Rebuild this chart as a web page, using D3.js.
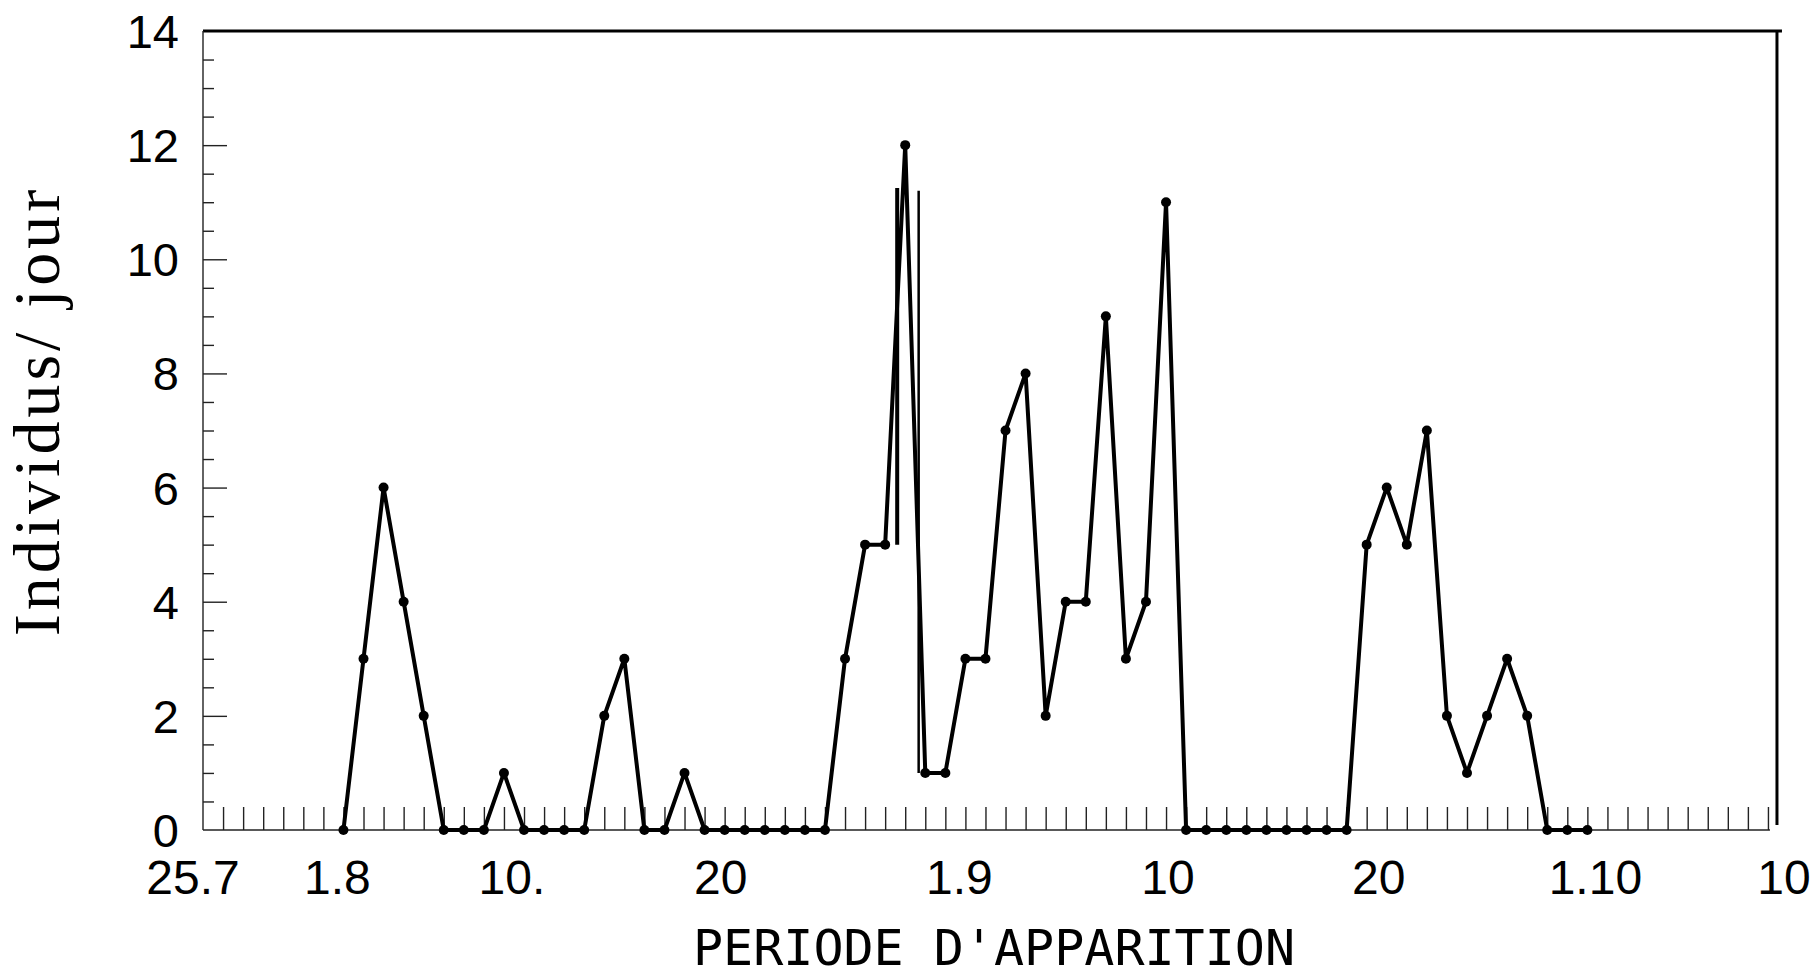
<!DOCTYPE html>
<html><head><meta charset="utf-8">
<script src="https://cdn.jsdelivr.net/npm/d3@7"></script>
<style>html,body{margin:0;padding:0;background:#fff;}</style>
</head><body>
<svg id="chart" width="1820" height="975"></svg>
<script>
// Day index counted from 25.7 (day 0); first observation on 1.8 (day 7)
const firstDay = 7;
const values = [0,3,6,4,2, 0,0,0,1,0, 0,0,0,2,3, 0,0,1,0,0, 0,0,0,0,0,
                3,5,5,12,1, 1,3,3,7,8, 2,4,4,9,3, 4,11,0,0,0, 0,0,0,0,0,
                0,5,6,5,7, 2,1,2,3,2, 0,0,0];
const xTickLabels = ["25.7","1.8","10.","20","1.9","10","20","1.10","10"];
const xTickDays   = [-0.5, 6.7, 15.4, 25.8, 37.7, 48.1, 58.6, 69.4, 78.8];
const yTickValues = [0,2,4,6,8,10,12,14];
const spikeDays = [34.6, 35.67];
const spikeFrom = [5, 1];
const spikeTo   = [11.25, 11.2];
const yTitle = "Individus/ jour";
const xTitle = "PERIODE D'APPARITION";

const svg = d3.select("#chart");
const x = d3.scaleLinear().domain([0, 78.9]).range([203, 1786]);
const y = d3.scaleLinear().domain([0, 14]).range([830, 31]);
const xEnd = 78.45;   // right frame position (days)

const data = values.map((v, i) => ({day: firstDay + i, v}));

// Frame
const g = svg.append("g");
g.append("line").attr("x1", x(0)).attr("x2", x(xEnd) + 5).attr("y1", y(14)).attr("y2", y(14))
  .attr("stroke", "#000").attr("stroke-width", 3);
g.append("line").attr("x1", x(xEnd)).attr("x2", x(xEnd)).attr("y1", y(14)).attr("y2", y(0) - 5)
  .attr("stroke", "#000").attr("stroke-width", 3);

// Y axis ticks (inward)
const minor = d3.range(0.5, 14, 0.5).filter(v => v % 2 !== 0);
const yMinor = g.append("g").attr("transform", `translate(${x(0)},0)`)
  .call(d3.axisRight(y).tickValues(minor).tickSize(11).tickFormat(""));
const yMajor = g.append("g").attr("transform", `translate(${x(0)},0)`)
  .call(d3.axisRight(y).tickValues(yTickValues.filter(v => v > 0 && v < 14)).tickSize(24).tickFormat(""));
[yMinor, yMajor].forEach(a => {
  a.select(".domain").remove();
  a.selectAll("line").attr("stroke", "#222").attr("stroke-width", 1.4);
});
g.append("line").attr("x1", x(0)).attr("x2", x(0)).attr("y1", y(14)).attr("y2", y(0))
  .attr("stroke", "#222").attr("stroke-width", 1.4);

// Y labels
const yLab = g.append("g").attr("transform", `translate(${x(0)},0)`)
  .call(d3.axisLeft(y).tickValues(yTickValues).tickSize(0).tickPadding(24));
yLab.select(".domain").remove();
yLab.selectAll("text").attr("font-family", "'Liberation Sans', Arial, sans-serif")
  .attr("font-size", 47).attr("fill", "#000").attr("dy", "0.35em");

// X axis day ticks (upward)
const xT = g.append("g").attr("transform", `translate(0,${y(0)})`)
  .call(d3.axisTop(x).tickValues(d3.range(1, 79)).tickSize(23).tickFormat(""));
xT.select(".domain").remove();
xT.selectAll("line").attr("stroke", "#222").attr("stroke-width", 1.4);
g.append("line").attr("x1", x(0)).attr("x2", x(78.1)).attr("y1", y(0)).attr("y2", y(0))
  .attr("stroke", "#222").attr("stroke-width", 1.4);

// X labels
g.selectAll("text.xl").data(xTickDays).enter().append("text").attr("class", "xl")
  .attr("x", d => x(d)).attr("y", 894)
  .attr("text-anchor", "middle")
  .attr("font-family", "'Liberation Sans', Arial, sans-serif")
  .attr("font-size", 48)
  .text((d, i) => xTickLabels[i]);

// Titles
svg.append("text").attr("x", 994).attr("y", 965).attr("text-anchor", "middle")
  .attr("font-family", "'DejaVu Sans Mono', monospace").attr("font-size", 50)
  .text(xTitle);
svg.append("text").attr("transform", "translate(59,413) rotate(-90)")
  .attr("text-anchor", "middle").attr("dx", 2)
  .attr("font-family", "'Liberation Serif', 'Times New Roman', serif")
  .attr("font-size", 66).attr("letter-spacing", 4)
  .text(yTitle);

// Vertical spikes
g.selectAll("line.spike").data(spikeDays).enter().append("line").attr("class", "spike")
  .attr("x1", d => x(d)).attr("x2", d => x(d))
  .attr("y1", (d, i) => y(spikeFrom[i])).attr("y2", (d, i) => y(spikeTo[i]))
  .attr("stroke", "#000").attr("stroke-width", (d, i) => i === 0 ? 4 : 2.5);

// Data line and markers
const line = d3.line().x(d => x(d.day)).y(d => y(d.v));
g.append("path").datum(data).attr("d", line).attr("fill", "none")
  .attr("stroke", "#000").attr("stroke-width", 4).attr("stroke-linejoin", "round");
g.selectAll("circle.pt").data(data).enter().append("circle").attr("class", "pt")
  .attr("cx", d => x(d.day)).attr("cy", d => y(d.v)).attr("r", 5).attr("fill", "#000");
</script>
</body></html>
